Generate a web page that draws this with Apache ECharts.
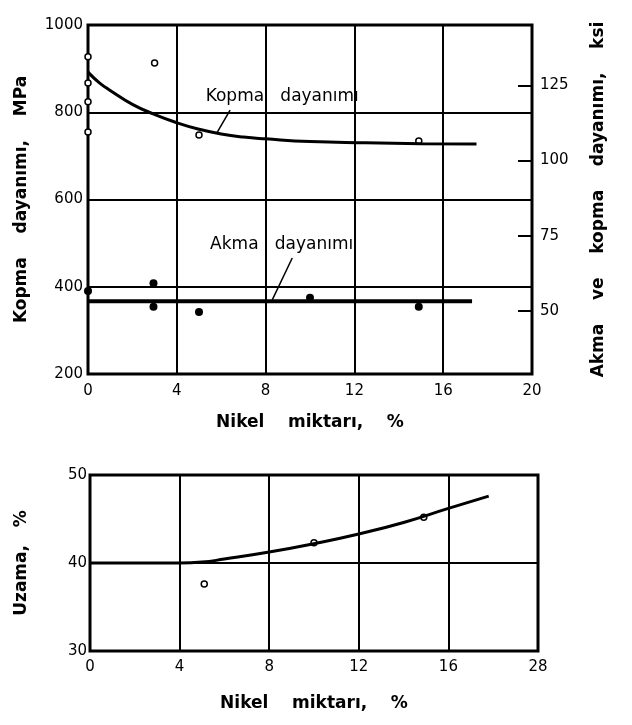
<!doctype html>
<html>
<head>
    <meta charset="utf-8"/>
    <title>Nikel miktarı</title>
    <script src="https://cdn.jsdelivr.net/npm/echarts@6/dist/echarts.min.js"></script>
    <style>
    body { margin: 0; background-color: #fff; }
    #chart { width: 632px; height: 725px; }
    </style>
</head>
<body>
    <div id="chart"></div>
    <script>
    // ust grafik: kopma / akma dayanimi (MPa)
    const xTicksTop = ['0', '4', '8', '12', '16', '20'];
    const ksiTicks = [50, 75, 100, 125];
    const kopmaCurve = [[0, 892], [0.5, 868], [1, 850], [2, 818], [3, 795], [4, 776], [5, 761], [6, 750], [7, 743], [8, 739], [10, 733], [12.5, 730], [15, 728], [17.5, 727]];
    const kopmaPoints = [[0, 927], [0, 867], [0, 824], [0, 755], [3, 913], [5, 748], [14.9, 734]];
    const akmaLine = [[0, 367], [17.3, 367]];
    const akmaPoints = [[0, 390], [2.95, 408], [2.95, 354], [5, 342], [10, 375], [14.9, 354]];
    const kopmaLeader = [[5.8, 752], [6.4, 805]];
    const akmaLeader = [[8.3, 370], [9.2, 466]];

    // alt grafik: uzama (%)
    const xTicksBottom = ['0', '4', '8', '12', '16', '28'];
    const uzamaCurve = [[0, 40], [2, 40], [4, 40], [5, 40.1], [6, 40.45], [8, 41.25], [10, 42.2], [12, 43.3], [14, 44.6], [16, 46.2], [17.8, 47.6]];
    const uzamaPoints = [[5.1, 37.6], [10, 42.3], [14.9, 45.2]];

    const MPA_PER_KSI = 6.895;
    const lbl = { color: '#000', fontFamily: 'DejaVu Sans', fontSize: 15 };
    const ttl = { color: '#000', fontFamily: 'DejaVu Sans', fontSize: 17, fontWeight: 'bold' };
    const split = { show: true, lineStyle: { color: '#000', width: 2 } };
    const openDot = { color: '#fff', borderColor: '#000', borderWidth: 1.5, opacity: 1 };

    const chart = echarts.init(document.getElementById('chart'));
    chart.setOption({
        animation: false,
        grid: [
            { left: 88, top: 25, width: 444, height: 349, show: true, borderColor: '#000', borderWidth: 3 },
            { left: 90, top: 475, width: 448, height: 176, show: true, borderColor: '#000', borderWidth: 3 }
        ],
        xAxis: [
            {
                gridIndex: 0, type: 'value', min: 0, max: 20, interval: 4,
                axisLine: { show: false }, axisTick: { show: false }, splitLine: split,
                axisLabel: Object.assign({ margin: 10, formatter: v => xTicksTop[v / 4] }, lbl),
                name: 'Nikel    miktarı,    %', nameLocation: 'middle', nameGap: 40, nameTextStyle: ttl
            },
            {
                gridIndex: 1, type: 'value', min: 0, max: 20, interval: 4,
                axisLine: { show: false }, axisTick: { show: false }, splitLine: split,
                axisLabel: Object.assign({ margin: 9, formatter: v => xTicksBottom[v / 4] }, lbl),
                name: 'Nikel    miktarı,    %', nameLocation: 'middle', nameGap: 44, nameTextStyle: ttl
            }
        ],
        yAxis: [
            {
                gridIndex: 0, type: 'value', min: 200, max: 1000, interval: 200,
                axisLine: { show: false }, axisTick: { show: false }, splitLine: split,
                axisLabel: Object.assign({ margin: 5, formatter: v => String(v) }, lbl),
                name: 'Kopma    dayanımı,    MPa', nameLocation: 'middle', nameGap: 58, nameTextStyle: ttl
            },
            {
                gridIndex: 0, type: 'value', position: 'right',
                min: 200 / MPA_PER_KSI, max: 1000 / MPA_PER_KSI,
                axisLine: { show: false }, splitLine: { show: false },
                axisTick: { show: true, inside: true, length: 14, customValues: ksiTicks, lineStyle: { color: '#000', width: 2 } },
                axisLabel: Object.assign({ margin: 8, customValues: ksiTicks }, lbl),
                name: 'Akma    ve    kopma    dayanımı,    ksi', nameLocation: 'middle', nameGap: 58, nameTextStyle: ttl
            },
            {
                gridIndex: 1, type: 'value', min: 30, max: 50, interval: 10,
                axisLine: { show: false }, axisTick: { show: false }, splitLine: split,
                axisLabel: Object.assign({ margin: 3 }, lbl),
                name: 'Uzama,   %', nameLocation: 'middle', nameGap: 60, nameTextStyle: ttl
            }
        ],
        series: [
            {
                type: 'line', xAxisIndex: 0, yAxisIndex: 0, data: kopmaCurve, smooth: true,
                showSymbol: false, lineStyle: { color: '#000', width: 3 }
            },
            {
                type: 'scatter', xAxisIndex: 0, yAxisIndex: 0, data: kopmaPoints,
                symbol: 'circle', symbolSize: 6, itemStyle: openDot
            },
            {
                type: 'line', xAxisIndex: 0, yAxisIndex: 0, data: akmaLine,
                showSymbol: false, lineStyle: { color: '#000', width: 4 }
            },
            {
                type: 'scatter', xAxisIndex: 0, yAxisIndex: 0, data: akmaPoints,
                symbol: 'circle', symbolSize: 8, itemStyle: { color: '#000', opacity: 1 }
            },
            {
                type: 'line', xAxisIndex: 0, yAxisIndex: 0, data: kopmaLeader,
                showSymbol: false, lineStyle: { color: '#000', width: 1.5 }
            },
            {
                type: 'line', xAxisIndex: 0, yAxisIndex: 0, data: akmaLeader,
                showSymbol: false, lineStyle: { color: '#000', width: 1.5 }
            },
            {
                type: 'scatter', xAxisIndex: 0, yAxisIndex: 0, symbolSize: 0,
                itemStyle: { opacity: 1 },
                data: [[5.3, 835, 'Kopma   dayanımı'], [5.5, 496, 'Akma   dayanımı']],
                label: {
                    show: true, position: 'right', distance: 0,
                    formatter: p => p.data[2], color: '#000', fontFamily: 'DejaVu Sans', fontSize: 17
                }
            },
            {
                type: 'line', xAxisIndex: 1, yAxisIndex: 2, data: uzamaCurve, smooth: true,
                showSymbol: false, lineStyle: { color: '#000', width: 3 }
            },
            {
                type: 'scatter', xAxisIndex: 1, yAxisIndex: 2, data: uzamaPoints,
                symbol: 'circle', symbolSize: 6, itemStyle: openDot
            }
        ]
    });
    </script>
</body>
</html>
